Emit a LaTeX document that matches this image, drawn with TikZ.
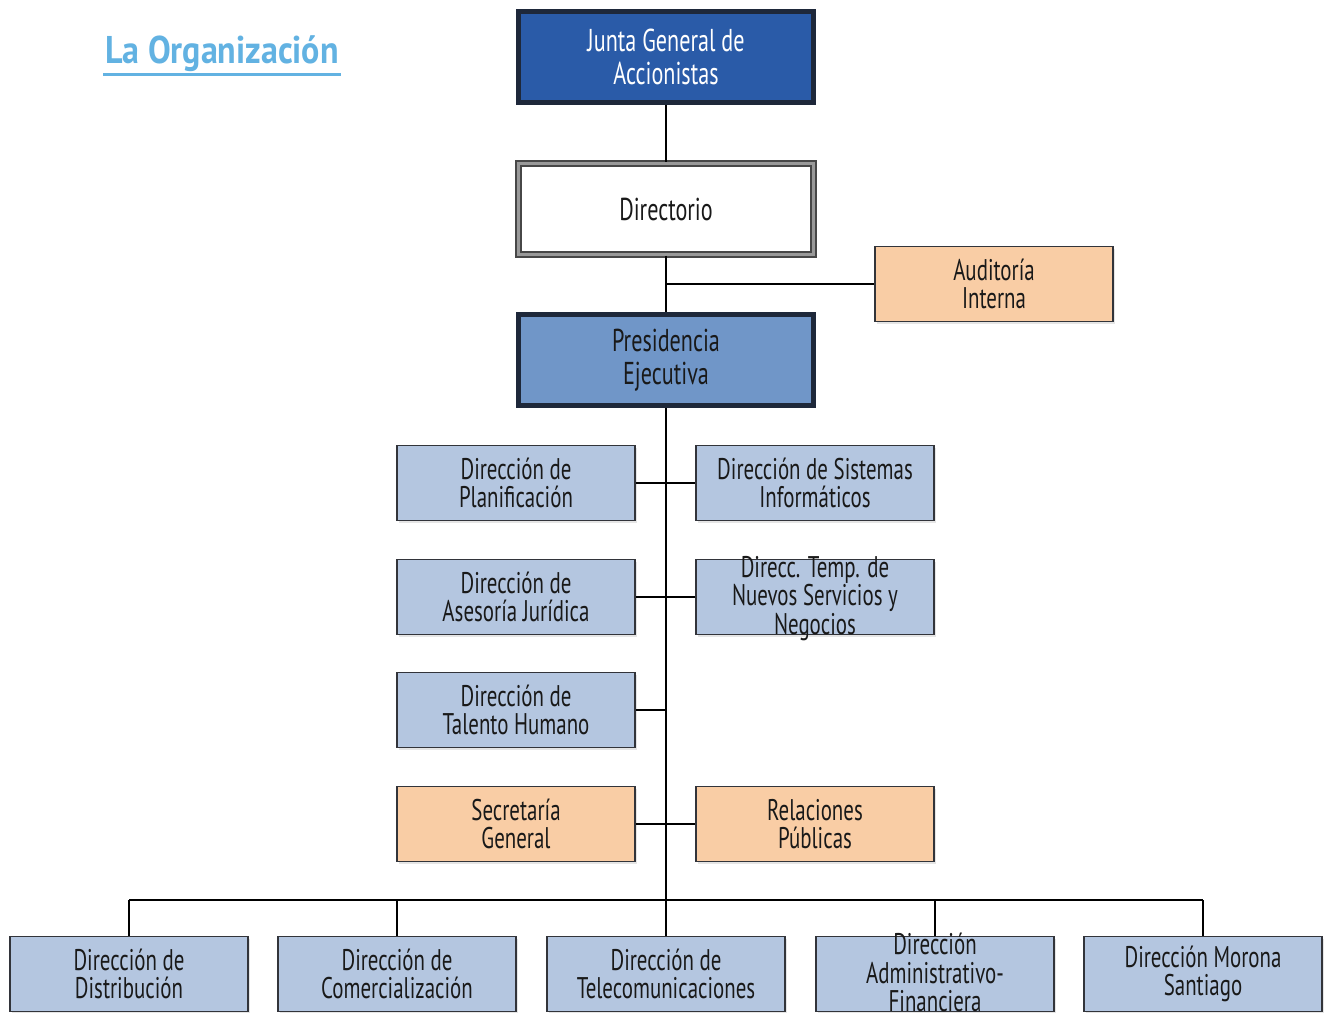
\documentclass[tikz,border=0pt]{standalone}
\usepackage{fontspec}
\setmainfont{PT Sans}[FakeStretch=0.7]
\newfontfamily\titlefont{PT Sans}[FakeStretch=0.88]
\usepackage{xcolor}
\usepackage{tikz}
\usetikzlibrary{shapes}
\usetikzlibrary{shadows}
\definecolor{juntablue}{RGB}{42,91,168}
\definecolor{presblue}{RGB}{112,150,200}
\definecolor{dirblue}{RGB}{180,198,224}
\definecolor{peach}{RGB}{249,205,165}
\definecolor{darkedge}{RGB}{30,40,58}
\definecolor{boxedge}{RGB}{50,52,58}
\definecolor{titleblue}{RGB}{98,178,226}
\definecolor{txt}{RGB}{25,25,25}
\newcommand{\tightlines}[1]{\renewcommand{\arraystretch}{0.9}\smash{\raisebox{-5.5pt}{\begin{tabular}{@{}c@{}}#1\end{tabular}}}}
\tikzset{
  top node/.style={rectangle,draw=darkedge,line width=2.6pt,minimum width=5.9cm,minimum height=1.82cm,
    align=center,text=txt,font=\fontsize{18}{19}\selectfont,
    drop shadow={opacity=0.2,shadow xshift=1pt,shadow yshift=-1.5pt}},
  dir node/.style={rectangle,draw=boxedge,line width=1.1pt,fill=dirblue,minimum width=4.76cm,minimum height=1.5cm,
    align=center,text=txt,inner sep=0pt,font=\fontsize{17}{15.5}\selectfont,
    drop shadow={opacity=0.2,shadow xshift=1pt,shadow yshift=-1.5pt}},
  peach node/.style={dir node,fill=peach},
  conn/.style={draw=black,line width=1.1pt}
}
\begin{document}
\begin{tikzpicture}[x=0.02cm,y=-0.02cm]
  \useasboundingbox[fill=white] (0,0) rectangle (1331,1013);
	\node [text=titleblue,inner sep=1pt,font=\titlefont\bfseries\fontsize{22}{24}\selectfont] (title) at (222,54) {La Organización};
	\draw [titleblue,line width=1.6pt] (title.south west) -- (title.south east);
	  \node [top node,fill=juntablue,text=white] (junta) at (666,57) {Junta General de\\Accionistas};
	  \node [top node,fill=white,draw=black!72,double=black!40,double distance=1.5pt,line width=1.2pt] (direc) at (666,209) {Directorio};
	  \node [top node,fill=presblue] (pres) at (666,360) {Presidencia\\Ejecutiva};
	  \node [peach node] (audit) at (994,284) {Auditoría\\Interna};
	  \node [dir node] (plan) at (516,483) {Dirección de\\Planificación};
	  \node [dir node] (sist) at (815,483) {Dirección de Sistemas\\Informáticos};
	  \node [dir node] (ases) at (516,597) {Dirección de\\Asesoría Jurídica};
	  \node [dir node] (temp) at (815,597) {\tightlines{Direcc. Temp. de\\Nuevos Servicios y\\Negocios}};
	  \node [dir node] (tal) at (516,710) {Dirección de\\Talento Humano};
	  \node [peach node] (sec) at (516,824) {Secretaría\\General};
	  \node [peach node] (rel) at (815,824) {Relaciones\\Públicas};
	  \node [dir node] (dist) at (129,974) {Dirección de\\Distribución};
	  \node [dir node] (com) at (397,974) {Dirección de\\Comercialización};
	  \node [dir node] (tel) at (666,974) {Dirección de\\Telecomunicaciones};
	  \node [dir node] (adm) at (935,974) {\tightlines{Dirección\\Administrativo-\\Financiera}};
	  \node [dir node] (mor) at (1203,974) {Dirección Morona\\Santiago};
	\coordinate (bus) at (666,900);
	\draw [conn] (junta) -- (direc);
	\draw [conn] (direc) -- (pres);
	\draw [conn] (audit.west) -- (audit.west -| direc.south);
	\draw [conn] (pres) -- (bus);
	\draw [conn] (plan) -- (sist);
	\draw [conn] (ases) -- (temp);
	\draw [conn] (tal.east) -- (tal.east -| pres.south);
	\draw [conn] (sec) -- (rel);
	\draw [conn] (dist.north |- bus) -- (mor.north |- bus);
	\foreach \n in {dist,com,tel,adm,mor}
	  \draw [conn] (\n.north) -- (\n.north |- bus);
\end{tikzpicture}
\end{document}
